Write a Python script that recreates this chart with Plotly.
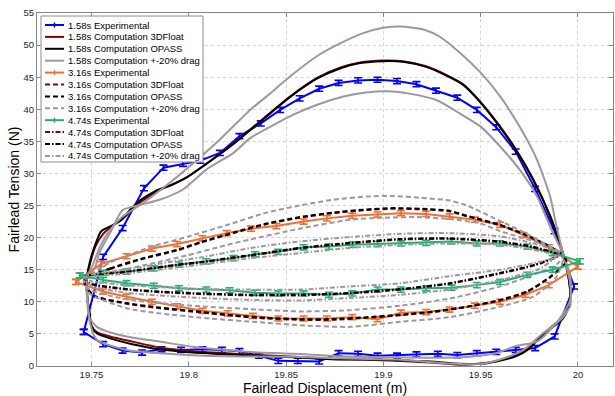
import plotly.graph_objects as go

# ---------------- DATA ----------------
x_ticks = [19.75, 19.8, 19.85, 19.9, 19.95, 20.0]
x_ticktext = ["19.75", "19.8", "19.85", "19.9", "19.95", "20"]
y_ticks = [0, 5, 10, 15, 20, 25, 30, 35, 40, 45, 50, 55]

EXP_ERR = 0.4

# 1.58 s experimental (closed loop)
exp158_x = [19.746, 19.756, 19.766, 19.777, 19.787, 19.797, 19.806, 19.816, 19.826, 19.837,
            19.847, 19.857, 19.867, 19.877, 19.887, 19.897, 19.907, 19.917, 19.927, 19.938,
            19.948, 19.958, 19.968, 19.978, 19.988, 19.998, 19.988, 19.978, 19.968, 19.958,
            19.948, 19.938, 19.928, 19.917, 19.907, 19.897, 19.887, 19.877, 19.867, 19.856,
            19.846, 19.836, 19.826, 19.817, 19.807, 19.796, 19.786, 19.776, 19.766, 19.756, 19.746]
exp158_y = [5.3, 17.0, 21.5, 27.7, 30.9, 31.5, 32.0, 33.2, 35.8, 37.8,
            39.9, 41.7, 43.2, 44.1, 44.5, 44.6, 44.4, 43.9, 42.9, 41.8,
            39.9, 37.2, 33.4, 27.6, 21.0, 12.4, 4.6, 2.8, 2.5, 2.2,
            2.0, 1.7, 1.9, 1.8, 1.6, 1.6, 1.9, 2.0, 0.7, 0.8,
            0.8, 1.6, 2.3, 2.5, 2.6, 2.5, 2.6, 2.1, 2.4, 3.4, 5.3]

# 1.58 s OPASS
opass158_x = [19.7475, 19.749, 19.751, 19.755, 19.760, 19.7655, 19.770, 19.775, 19.783, 19.790,
              19.799, 19.809, 19.823, 19.831, 19.842, 19.852, 19.866, 19.878, 19.888, 19.900,
              19.910, 19.922, 19.934, 19.941, 19.948, 19.958, 19.968, 19.977, 19.9857, 19.990,
              19.9925, 19.995, 19.996, 19.995, 19.992, 19.986, 19.980, 19.975, 19.968, 19.958,
              19.951, 19.939, 19.924, 19.907, 19.890, 19.873, 19.854, 19.828, 19.802, 19.785,
              19.771, 19.7595, 19.7527, 19.750, 19.749, 19.748, 19.7475]
opass158_y = [13.5, 16.0, 18.1, 21.0, 21.8, 22.8, 24.4, 25.8, 27.3, 28.1,
              29.4, 31.5, 34.6, 36.6, 39.4, 41.9, 44.8, 46.4, 47.2, 47.5,
              47.4, 46.6, 45.0, 43.8, 41.7, 38.0, 33.7, 29.0, 23.3, 19.7,
              17.3, 14.0, 11.0, 9.0, 7.3, 5.8, 4.3, 2.7, 1.5, 0.7,
              0.35, 0.35, 0.7, 0.9, 1.0, 1.05, 1.35, 1.7, 2.1, 2.6,
              3.4, 4.3, 5.1, 6.1, 8.2, 10.3, 13.5]

# 1.58 s 3DFloat
float158_x = [19.7475, 19.7495, 19.752, 19.756, 19.761, 19.767, 19.772, 19.778, 19.785, 19.792,
              19.800, 19.810, 19.823, 19.831, 19.842, 19.852, 19.866, 19.878, 19.888, 19.900,
              19.910, 19.922, 19.934, 19.941, 19.948, 19.958, 19.968, 19.977, 19.9857, 19.990,
              19.9925, 19.995, 19.996, 19.995, 19.992, 19.986, 19.980, 19.975, 19.968, 19.958,
              19.950, 19.940, 19.926, 19.907, 19.890, 19.873, 19.854, 19.828, 19.802, 19.785,
              19.771, 19.7595, 19.7527, 19.750, 19.749, 19.748, 19.7475]
float158_y = [13.5, 16.2, 18.6, 20.6, 21.9, 23.2, 24.8, 26.1, 27.4, 28.3,
              29.6, 31.7, 34.7, 36.7, 39.5, 42.0, 44.9, 46.5, 47.3, 47.6,
              47.5, 46.7, 45.1, 43.9, 41.8, 38.1, 33.8, 29.1, 23.4, 19.8,
              17.4, 14.2, 11.2, 9.2, 7.6, 6.0, 4.4, 2.9, 1.7, 0.8,
              0.4, 0.2, 0.5, 0.8, 1.0, 1.1, 1.45, 1.85, 2.3, 2.9,
              3.8, 4.6, 5.3, 6.3, 8.3, 10.4, 13.5]

# 1.58 s +20% drag (large loop)
dragp158_x = [19.7475, 19.751, 19.7544, 19.7595, 19.766, 19.7766, 19.790, 19.803, 19.816, 19.8315,
              19.842, 19.852, 19.866, 19.878, 19.890, 19.900, 19.909, 19.921, 19.929, 19.939,
              19.950, 19.960, 19.970, 19.979, 19.9857, 19.989, 19.9925, 19.996, 19.996, 19.991,
              19.982, 19.972, 19.962, 19.950, 19.933, 19.907, 19.878, 19.854, 19.820, 19.785,
              19.768, 19.7527, 19.749, 19.7475]
dragp158_y = [13.5, 16.0, 18.6, 21.2, 23.3, 25.4, 28.5, 31.8, 35.3, 39.9,
              42.5, 45.1, 48.3, 50.3, 51.9, 52.7, 52.9, 52.4, 51.3, 48.9,
              45.7, 42.0, 37.3, 32.1, 26.4, 21.7, 17.3, 13.0, 9.3, 7.2,
              5.1, 2.5, 1.2, 0.3, 0.4, 1.0, 1.2, 1.45, 1.5, 2.0,
              2.5, 4.1, 7.0, 13.5]

# 1.58 s -20% drag (small loop)
dragm158_x = [19.7475, 19.752, 19.754, 19.760, 19.766, 19.775, 19.785, 19.797, 19.809, 19.823,
              19.8315, 19.842, 19.854, 19.866, 19.8795, 19.891, 19.902, 19.914, 19.9275, 19.939,
              19.950, 19.960, 19.970, 19.979, 19.9857, 19.9925, 19.996, 19.996, 19.9925, 19.9857,
              19.979, 19.968, 19.958, 19.941, 19.907, 19.878, 19.854, 19.8366, 19.8195, 19.802,
              19.785, 19.768, 19.758, 19.7527, 19.749, 19.748, 19.7475]
dragm158_y = [13.5, 15.5, 17.6, 21.0, 24.3, 25.1, 25.9, 27.5, 30.6, 33.2,
              35.5, 37.3, 39.2, 40.7, 42.0, 42.6, 42.8, 42.4, 41.4, 39.4,
              37.3, 34.2, 30.6, 26.4, 21.7, 17.3, 14.0, 10.3, 8.2, 5.6,
              3.8, 3.1, 2.0, 1.35, 1.35, 1.5, 1.9, 2.1, 2.5, 3.0,
              3.8, 4.6, 5.4, 6.1, 7.5, 10.5, 13.5]

# 3.16 s experimental
exp316_x = [19.742, 19.755, 19.768, 19.781, 19.794, 19.807, 19.8195, 19.832, 19.845, 19.859,
            19.871, 19.884, 19.897, 19.909, 19.922, 19.934, 19.947, 19.960, 19.972, 19.985,
            20.000, 19.985, 19.973, 19.960, 19.947, 19.934, 19.922, 19.909, 19.897, 19.884,
            19.871, 19.859, 19.846, 19.833, 19.820, 19.807, 19.794, 19.781, 19.768, 19.756, 19.742]
exp316_y = [13.1, 15.9, 17.1, 18.3, 19.0, 19.9, 20.7, 21.4, 21.8, 22.5,
            23.0, 23.4, 23.6, 23.8, 23.7, 23.3, 22.8, 22.0, 20.4, 18.5,
            15.5, 12.6, 11.1, 10.0, 9.4, 8.8, 8.4, 8.3, 7.3, 7.6,
            7.4, 7.4, 7.4, 7.8, 8.2, 8.6, 9.3, 10.0, 10.8, 11.6, 13.1]

# 3.16 s OPASS
opass316_x = [19.746, 19.7595, 19.7766, 19.794, 19.806, 19.823, 19.840, 19.857, 19.874, 19.8915,
              19.905, 19.919, 19.934, 19.943, 19.960, 19.9737, 19.9857, 19.9925, 19.994, 19.9857,
              19.9737, 19.960, 19.943, 19.926, 19.9087, 19.8915, 19.874, 19.857, 19.840, 19.823,
              19.8075, 19.785, 19.768, 19.751, 19.746]
opass316_y = [13.4, 15.2, 16.8, 18.1, 19.3, 20.8, 22.2, 23.2, 23.9, 24.4,
              24.6, 24.5, 24.2, 23.4, 22.0, 20.4, 18.6, 17.3, 16.3, 13.9,
              11.6, 10.3, 9.25, 8.5, 8.0, 7.6, 7.3, 7.3, 7.5, 7.9,
              8.4, 9.1, 9.8, 11.0, 13.4]

# 3.16 s 3DFloat
float316_x = [19.746, 19.7595, 19.7766, 19.794, 19.806, 19.823, 19.840, 19.857, 19.874, 19.8915,
              19.905, 19.919, 19.934, 19.943, 19.960, 19.9737, 19.9857, 19.9925, 19.994, 19.9857,
              19.9737, 19.960, 19.943, 19.926, 19.9087, 19.8915, 19.874, 19.857, 19.840, 19.823,
              19.8075, 19.785, 19.768, 19.751, 19.746]
float316_y = [13.4, 15.1, 16.7, 18.0, 19.2, 20.7, 22.1, 23.1, 23.8, 24.3,
              24.5, 24.4, 24.1, 23.3, 21.9, 20.3, 18.5, 17.2, 16.2, 13.8,
              11.5, 10.2, 9.2, 8.4, 7.9, 7.5, 7.2, 7.2, 7.4, 7.8,
              8.3, 9.0, 9.7, 10.9, 13.4]

# 3.16 s +20% drag
dragp316_x = [19.746, 19.760, 19.780, 19.800, 19.820, 19.840, 19.857, 19.874, 19.8915, 19.905,
              19.919, 19.934, 19.943, 19.960, 19.9737, 19.9857, 19.9925, 19.989, 19.977, 19.960,
              19.934, 19.909, 19.883, 19.860, 19.837, 19.811, 19.785, 19.768, 19.749, 19.746]
dragp316_y = [13.6, 16.2, 18.5, 20.2, 22.0, 23.9, 25.0, 25.9, 26.4, 26.5,
              26.2, 25.8, 25.0, 22.6, 20.6, 18.6, 17.3, 13.9, 10.8, 9.25,
              7.6, 6.9, 6.1, 6.3, 6.8, 7.4, 8.2, 9.0, 11.3, 13.4]

# 3.16 s -20% drag
dragm316_x = [19.746, 19.760, 19.780, 19.800, 19.820, 19.8315, 19.857, 19.883, 19.900, 19.917,
              19.934, 19.950, 19.960, 19.9807, 19.9925, 19.989, 19.977, 19.960, 19.934, 19.909,
              19.883, 19.857, 19.835, 19.806, 19.785, 19.768, 19.749, 19.746]
dragm316_y = [13.3, 14.6, 15.9, 17.3, 18.9, 19.7, 21.4, 22.8, 23.1, 23.2,
              22.9, 22.2, 21.0, 19.1, 17.3, 15.8, 14.2, 12.4, 10.5, 9.4,
              8.7, 8.5, 8.8, 9.3, 9.8, 10.4, 11.9, 13.3]

# 4.74 s experimental
exp474_x = [19.744, 19.756, 19.768, 19.782, 19.795, 19.809, 19.823, 19.834, 19.846, 19.859,
            19.872, 19.884, 19.897, 19.909, 19.922, 19.935, 19.948, 19.960, 19.974, 19.987,
            20.001, 19.987, 19.974, 19.960, 19.948, 19.935, 19.922, 19.909, 19.897, 19.884,
            19.872, 19.859, 19.846, 19.834, 19.821, 19.809, 19.795, 19.782, 19.768, 19.756, 19.744]
exp474_y = [14.1, 14.5, 14.7, 15.2, 15.8, 16.3, 16.8, 17.4, 17.8, 18.5,
            18.6, 18.9, 19.0, 19.1, 19.2, 19.4, 19.1, 19.1, 18.6, 17.6,
            16.3, 15.0, 14.2, 13.1, 12.6, 12.2, 12.1, 11.9, 11.9, 11.3,
            11.1, 11.3, 11.3, 11.4, 11.8, 11.9, 12.1, 12.5, 12.9, 13.4, 14.1]

# 4.74 s OPASS
opass474_x = [19.746, 19.768, 19.794, 19.806, 19.820, 19.832, 19.857, 19.883, 19.909, 19.934,
              19.960, 19.9766, 19.990, 19.978, 19.960, 19.934, 19.909, 19.883, 19.857, 19.832,
              19.806, 19.785, 19.768, 19.749, 19.746]
opass474_y = [13.9, 14.7, 15.8, 16.2, 16.8, 17.3, 18.4, 19.2, 19.8, 19.9,
              19.4, 18.6, 17.3, 15.8, 14.5, 12.9, 12.0, 11.4, 11.1, 11.1,
              11.3, 11.6, 12.0, 12.9, 13.9]

# 4.74 s 3DFloat
float474_x = [19.746, 19.768, 19.794, 19.806, 19.820, 19.832, 19.857, 19.883, 19.909, 19.934,
              19.960, 19.9766, 19.990, 19.978, 19.960, 19.934, 19.909, 19.883, 19.857, 19.832,
              19.806, 19.785, 19.768, 19.749, 19.746]
float474_y = [13.9, 14.6, 15.7, 16.1, 16.7, 17.2, 18.3, 19.1, 19.7, 19.8,
              19.3, 18.5, 17.2, 15.7, 14.4, 12.8, 11.9, 11.3, 11.0, 11.0,
              11.2, 11.5, 11.9, 12.8, 13.9]

# 4.74 s +20% drag
dragp474_x = [19.746, 19.768, 19.790, 19.806, 19.832, 19.857, 19.883, 19.909, 19.934, 19.960,
              19.977, 19.990, 19.9807, 19.960, 19.934, 19.909, 19.883, 19.857, 19.832, 19.806,
              19.768, 19.750, 19.746]
dragp474_y = [13.9, 15.0, 16.2, 16.9, 18.4, 19.4, 20.1, 20.6, 20.7, 20.2,
              19.1, 17.6, 15.2, 13.4, 11.9, 11.1, 10.6, 10.2, 10.3, 10.6,
              11.4, 12.5, 13.9]

# 4.74 s -20% drag
dragm474_x = [19.746, 19.768, 19.790, 19.806, 19.832, 19.857, 19.883, 19.909, 19.934, 19.960,
              19.977, 19.990, 19.980, 19.960, 19.934, 19.909, 19.883, 19.857, 19.832, 19.806,
              19.785, 19.768, 19.750, 19.746]
dragm474_y = [13.7, 14.4, 15.2, 15.8, 16.8, 17.6, 18.4, 18.9, 19.1, 18.9,
              18.1, 17.1, 16.2, 15.0, 14.0, 12.9, 12.4, 11.9, 11.9, 12.0,
              12.3, 12.6, 13.2, 13.7]

# ---------------- STYLE ----------------
BLUE = "#0000ff"
DRED = "#8b0000"
BLACK = "#000000"
GRAY = "#9e979e"
ORANGE = "#ef7031"
GREEN = "#1fb170"
DASH316 = "5px,3px"
DASH474 = "5px,2px,1.5px,2px"
FONT = "Liberation Sans, Arial, sans-serif"

fig = go.Figure()


def add_exp(x, y, color):
    fig.add_trace(go.Scatter(
        x=x, y=y, mode="lines", line=dict(color=color, width=2),
        error_y=dict(type="constant", value=EXP_ERR, color=color, thickness=1.6, width=4),
        showlegend=False, hoverinfo="skip"))


def add_comp(x, y, color, dash="solid"):
    fig.add_trace(go.Scatter(
        x=x, y=y, mode="lines",
        line=dict(color=color, width=2, dash=dash, shape="spline", smoothing=0.6),
        showlegend=False, hoverinfo="skip"))


add_exp(exp158_x, exp158_y, BLUE)
add_comp(float158_x, float158_y, DRED)
add_comp(opass158_x, opass158_y, BLACK)
add_comp(dragp158_x + [None] + dragm158_x, dragp158_y + [None] + dragm158_y, GRAY)

add_exp(exp316_x, exp316_y, ORANGE)
add_comp(float316_x, float316_y, DRED, DASH316)
add_comp(opass316_x, opass316_y, BLACK, DASH316)
add_comp(dragp316_x + [None] + dragm316_x, dragp316_y + [None] + dragm316_y, GRAY, DASH316)

add_exp(exp474_x, exp474_y, GREEN)
add_comp(float474_x, float474_y, DRED, DASH474)
add_comp(opass474_x, opass474_y, BLACK, DASH474)
add_comp(dragp474_x + [None] + dragm474_x, dragp474_y + [None] + dragm474_y, GRAY, DASH474)

# ---------------- LAYOUT ----------------
W, H = 615, 396
ML, MR, MT, MB = 37, 2, 13, 30
PW, PH = W - ML - MR, H - MT - MB


def px(xp):
    return (xp - ML) / PW


def py(yp):
    return (H - MB - yp) / PH


legend_entries = [
    ("1.58s Experimental", BLUE, "solid", True),
    ("1.58s Computation 3DFloat", DRED, "solid", False),
    ("1.58s Computation OPASS", BLACK, "solid", False),
    ("1.58s Computation +-20% drag", GRAY, "solid", False),
    ("3.16s Experimental", ORANGE, "solid", True),
    ("3.16s Computation 3DFloat", DRED, DASH316, False),
    ("3.16s Computation OPASS", BLACK, DASH316, False),
    ("3.16s Computation +-20% drag", GRAY, DASH316, False),
    ("4.74s Experimental", GREEN, "solid", True),
    ("4.74s Computation 3DFloat", DRED, DASH474, False),
    ("4.74s Computation OPASS", BLACK, DASH474, False),
    ("4.74s Computation +-20% drag", GRAY, DASH474, False),
]

shapes = [dict(type="rect", xref="paper", yref="paper", x0=px(41), x1=px(203),
               y0=py(162), y1=py(16), line=dict(color="#8c8c8c", width=1),
               fillcolor="white", layer="above")]
annotations = []
for i, (label, color, dash, is_exp) in enumerate(legend_entries):
    yc = 25 + i * 11.9
    shapes.append(dict(type="line", xref="paper", yref="paper", x0=px(45), x1=px(64),
                       y0=py(yc), y1=py(yc), line=dict(color=color, width=2, dash=dash),
                       layer="above"))
    if is_exp:
        shapes.append(dict(type="line", xref="paper", yref="paper", x0=px(54.5), x1=px(54.5),
                           y0=py(yc - 2.5), y1=py(yc + 2.5), line=dict(color=color, width=1.5),
                           layer="above"))
    annotations.append(dict(text=label, xref="paper", yref="paper", x=px(65.5), y=py(yc),
                            xanchor="left", yanchor="middle", showarrow=False,
                            font=dict(family=FONT, size=9.5, color="#000000")))

axis_common = dict(showgrid=True, gridcolor="#d4d4d4", griddash="dot", gridwidth=1,
                   showline=True, linecolor="#868686", linewidth=1, mirror="ticks",
                   ticks="inside", ticklen=4, tickcolor="#868686", zeroline=False,
                   tickfont=dict(family=FONT, size=9.5, color="#262626"))

fig.update_layout(
    width=W, height=H,
    margin=dict(l=ML, r=MR, t=MT, b=MB),
    paper_bgcolor="white", plot_bgcolor="white",
    showlegend=False,
    shapes=shapes, annotations=annotations,
    xaxis=dict(range=[19.722, 20.018], tickvals=x_ticks, ticktext=x_ticktext,
               title=dict(text="Fairlead Displacement (m)", standoff=2,
                          font=dict(family=FONT, size=14, color="#000000")),
               **axis_common),
    yaxis=dict(range=[0, 55], tickvals=y_ticks,
               title=dict(text="Fairlead Tension (N)", standoff=0,
                          font=dict(family=FONT, size=14, color="#000000")),
               **axis_common),
)

fig.write_html(
    "out.html",
    config={"displayModeBar": False},
    post_script="document.body.style.margin='0px';document.body.style.overflow='hidden';",
)
